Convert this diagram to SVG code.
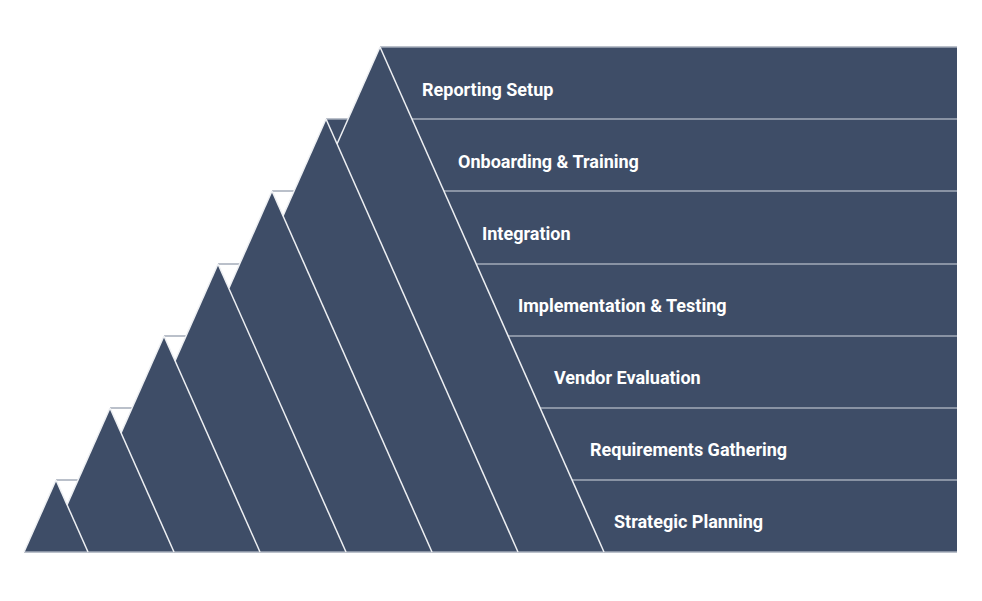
<svg xmlns="http://www.w3.org/2000/svg" width="982" height="601" viewBox="0 0 982 601">
<style>
.f{fill:#3e4d67}
.d{stroke:#eef0f3;stroke-width:1.5;fill:none}
.h{stroke:#a3abb8;stroke-width:1.5;fill:none}
.t{fill:#fff;font-family:Roboto,"Liberation Sans",sans-serif;font-weight:bold;font-size:18px}
</style>
<rect width="982" height="601" fill="#fff"/>
<g id="fills">
<polygon class="f" points="380,47 604,552 156,552"/>
<polygon class="f" points="326,119 518,552 134,552"/>
<polygon class="f" points="272,191 432,552 112,552"/>
<polygon class="f" points="218,264 346,552 90,552"/>
<polygon class="f" points="164,336 260,552 68,552"/>
<polygon class="f" points="110,408 174,552 46,552"/>
<polygon class="f" points="56,480 88,552 24,552"/>
<rect class="f" x="380" y="47" width="577" height="505"/>
<polygon class="f" points="326,119 380,119 380,200 326,200"/>
</g>
<g id="connectors">
<line class="h" x1="380" y1="47" x2="957" y2="47"/>
<line class="h" x1="326" y1="119" x2="348" y2="119"/><line class="h" x1="412" y1="119" x2="957" y2="119"/>
<line class="h" x1="272" y1="191" x2="294" y2="191"/><line class="h" x1="444" y1="191" x2="957" y2="191"/>
<line class="h" x1="218" y1="264" x2="240" y2="264"/><line class="h" x1="477" y1="264" x2="957" y2="264"/>
<line class="h" x1="164" y1="336" x2="186" y2="336"/><line class="h" x1="508" y1="336" x2="957" y2="336"/>
<line class="h" x1="110" y1="408" x2="132" y2="408"/><line class="h" x1="540" y1="408" x2="957" y2="408"/>
<line class="h" x1="56" y1="480" x2="78" y2="480"/><line class="h" x1="572" y1="480" x2="957" y2="480"/>
<line class="h" x1="24" y1="552" x2="957" y2="552"/>
<line class="d" x1="380" y1="47" x2="604" y2="552"/>
<line class="d" x1="326" y1="119" x2="518" y2="552"/>
<line class="d" x1="272" y1="191" x2="432" y2="552"/>
<line class="d" x1="218" y1="264" x2="346" y2="552"/>
<line class="d" x1="164" y1="336" x2="260" y2="552"/>
<line class="d" x1="110" y1="408" x2="174" y2="552"/>
<line class="d" x1="56" y1="480" x2="88" y2="552"/>
<line class="d" x1="380" y1="47" x2="337" y2="144"/>
<line class="d" x1="326" y1="119" x2="283" y2="216"/>
<line class="d" x1="272" y1="191" x2="229" y2="288"/>
<line class="d" x1="218" y1="264" x2="175" y2="361"/>
<line class="d" x1="164" y1="336" x2="121" y2="433"/>
<line class="d" x1="110" y1="408" x2="67" y2="505"/>
<line class="d" x1="56" y1="480" x2="24" y2="552"/>
</g>
<g id="n7"><text class="t" x="422" y="96">Reporting Setup</text></g>
<g id="n6"><text class="t" x="458" y="168">Onboarding &amp; Training</text></g>
<g id="n5"><text class="t" x="482" y="240">Integration</text></g>
<g id="n4"><text class="t" x="518" y="312">Implementation &amp; Testing</text></g>
<g id="n3"><text class="t" x="554" y="384">Vendor Evaluation</text></g>
<g id="n2"><text class="t" x="590" y="456">Requirements Gathering</text></g>
<g id="n1"><text class="t" x="614" y="528">Strategic Planning</text></g>
</svg>
